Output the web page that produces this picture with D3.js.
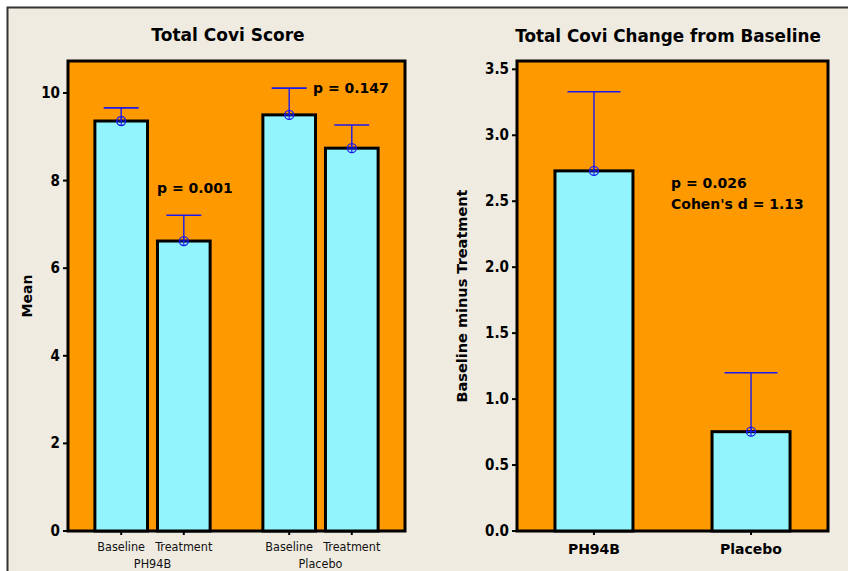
<!DOCTYPE html>
<html>
<head>
<meta charset="utf-8">
<script src="https://cdn.jsdelivr.net/npm/d3@7"></script>
<style>
  html, body { margin: 0; padding: 0; background: #fff; }
  svg { display: block; }
</style>
</head>
<body>
<div id="chart"></div>
<script>
// Left panel: Total Covi Score means by group/time
const scoreGroups   = ['PH94B', 'Placebo'];
const scoreTimes    = ['Baseline', 'Treatment'];
const scoreMeans    = [[9.36, 6.62], [9.50, 8.74]];
const scoreUpper    = [[9.66, 7.21], [10.11, 9.27]];
const scoreTicks    = [0, 2, 4, 6, 8, 10];
const scorePLabels  = ['p = 0.001', 'p = 0.147'];

// Right panel: change from baseline
const changeCats    = ['PH94B', 'Placebo'];
const changeMeans   = [2.73, 0.753];
const changeUpper   = [3.33, 1.20];
const changeTicks   = [0, 0.5, 1.0, 1.5, 2.0, 2.5, 3.0, 3.5];
const changeNotes   = ['p = 0.026', "Cohen's d = 1.13"];

const W = 848, H = 571;
const FONT = '"DejaVu Sans", sans-serif';
const FONT_C = '"DejaVu Sans Condensed", "DejaVu Sans", sans-serif';
const ORANGE = '#FF9900', CYAN = '#92F5FD', BLUE = '#1A1AF0', BG = '#EFEBE1';

const svg = d3.select('#chart').append('svg')
  .attr('width', W).attr('height', H)
  .attr('font-family', FONT);

svg.append('rect').attr('x', 7).attr('y', 7).attr('width', W - 7).attr('height', H - 7).attr('fill', BG);
svg.append('path').attr('d', `M7.5,${H} V7.5 H${W}`).attr('fill', 'none')
  .attr('stroke', '#333').attr('stroke-width', 2);

function errorBar(g, cx, yTop, yMean, capW) {
  g.append('line').attr('x1', cx).attr('x2', cx).attr('y1', yMean).attr('y2', yTop)
    .attr('stroke', BLUE).attr('stroke-width', 1.4);
  g.append('line').attr('x1', cx - capW / 2).attr('x2', cx + capW / 2).attr('y1', yTop).attr('y2', yTop)
    .attr('stroke', BLUE).attr('stroke-width', 1.6);
  g.append('circle').attr('cx', cx).attr('cy', yMean).attr('r', 4.5)
    .attr('fill', 'none').attr('stroke', BLUE).attr('stroke-width', 1.3);
  g.append('path').attr('d', `M${cx - 4.5},${yMean} H${cx + 4.5} M${cx},${yMean - 4.5} V${yMean + 4.5}`)
    .attr('stroke', BLUE).attr('stroke-width', 1.1);
}

function tickLabel(g, x, y, text) {
  g.append('text').attr('x', x).attr('y', y).attr('text-anchor', 'end')
    .attr('font-family', FONT_C).attr('font-size', 15).attr('font-weight', 'bold').text(text);
}

/* ---------------- Left panel ---------------- */
{
  const L = 68, R = 405, T = 61, B = 531;
  const y = d3.scaleLinear().domain([0, 10.73]).range([B, T]);
  const xOuter = d3.scaleBand().domain(scoreGroups).range([L, R]).paddingInner(0.314).paddingOuter(0.16);
  const xInner = d3.scaleBand().domain(scoreTimes).range([0, xOuter.bandwidth()]).paddingInner(0.159);

  const g = svg.append('g');
  g.append('rect').attr('x', L).attr('y', T).attr('width', R - L).attr('height', B - T)
    .attr('fill', ORANGE).attr('stroke', '#000').attr('stroke-width', 3);

  scoreGroups.forEach((grp, gi) => {
    scoreTimes.forEach((t, ti) => {
      const bx = xOuter(grp) + xInner(t);
      const bw = xInner.bandwidth();
      g.append('rect').attr('x', bx).attr('y', y(scoreMeans[gi][ti]))
        .attr('width', bw).attr('height', B - y(scoreMeans[gi][ti]))
        .attr('fill', CYAN).attr('stroke', '#000').attr('stroke-width', 3);
      const cx = bx + bw / 2;
      errorBar(g, cx, y(scoreUpper[gi][ti]), y(scoreMeans[gi][ti]), 35);
      g.append('line').attr('x1', cx).attr('x2', cx).attr('y1', B).attr('y2', B + 4)
        .attr('stroke', '#000').attr('stroke-width', 2);
      g.append('text').attr('x', cx).attr('y', B + 20).attr('text-anchor', 'middle')
        .attr('font-family', FONT_C).attr('font-size', 12.5).attr('fill', '#111').text(t);
    });
    g.append('text').attr('x', xOuter(grp) + xOuter.bandwidth() / 2).attr('y', B + 37)
      .attr('text-anchor', 'middle').attr('font-family', FONT_C).attr('font-size', 12.5)
      .attr('fill', '#111').text(grp);
  });

  scoreTicks.forEach(v => {
    g.append('line').attr('x1', L - 5).attr('x2', L).attr('y1', y(v)).attr('y2', y(v))
      .attr('stroke', '#000').attr('stroke-width', 2);
    tickLabel(g, L - 8, y(v) + 5, v);
  });

  g.append('text').attr('transform', `translate(32,${(T + B) / 2}) rotate(-90)`)
    .attr('text-anchor', 'middle').attr('font-size', 14).attr('font-weight', 'bold').text('Mean');
  g.append('text').attr('x', 228).attr('y', 41).attr('text-anchor', 'middle')
    .attr('font-size', 17).attr('font-weight', 'bold').text('Total Covi Score');

  g.append('text').attr('x', 157).attr('y', 193).attr('font-size', 14).attr('font-weight', 'bold').text(scorePLabels[0]);
  g.append('text').attr('x', 313).attr('y', 93).attr('font-size', 14).attr('font-weight', 'bold').text(scorePLabels[1]);
}

/* ---------------- Right panel ---------------- */
{
  const L = 517, R = 828, T = 61, B = 531;
  const y = d3.scaleLinear().domain([0, 3.563]).range([B, T]);
  const x = d3.scalePoint().domain(changeCats).range([L, R]).padding(0.49);
  const bw = 78;

  const g = svg.append('g');
  g.append('rect').attr('x', L).attr('y', T).attr('width', R - L).attr('height', B - T)
    .attr('fill', ORANGE).attr('stroke', '#000').attr('stroke-width', 3);

  changeCats.forEach((c, i) => {
    const cx = x(c);
    g.append('rect').attr('x', cx - bw / 2).attr('y', y(changeMeans[i]))
      .attr('width', bw).attr('height', B - y(changeMeans[i]))
      .attr('fill', CYAN).attr('stroke', '#000').attr('stroke-width', 3);
    errorBar(g, cx, y(changeUpper[i]), y(changeMeans[i]), 53);
    g.append('line').attr('x1', cx).attr('x2', cx).attr('y1', B).attr('y2', B + 4)
      .attr('stroke', '#000').attr('stroke-width', 2);
    g.append('text').attr('x', cx).attr('y', B + 23).attr('text-anchor', 'middle')
      .attr('font-size', 14).attr('font-weight', 'bold').text(c);
  });

  changeTicks.forEach(v => {
    g.append('line').attr('x1', L - 5).attr('x2', L).attr('y1', y(v)).attr('y2', y(v))
      .attr('stroke', '#000').attr('stroke-width', 2);
    tickLabel(g, L - 8, y(v) + 5, v.toFixed(1));
  });

  g.append('text').attr('transform', `translate(467,296) rotate(-90)`)
    .attr('text-anchor', 'middle').attr('font-size', 14.5).attr('font-weight', 'bold').text('Baseline minus Treatment');
  g.append('text').attr('x', 668).attr('y', 42).attr('text-anchor', 'middle')
    .attr('font-size', 16.8).attr('font-weight', 'bold').text('Total Covi Change from Baseline');

  changeNotes.forEach((t, i) => {
    g.append('text').attr('x', 671).attr('y', 188 + i * 21)
      .attr('font-size', 14).attr('font-weight', 'bold').text(t);
  });
}
</script>
</body>
</html>
